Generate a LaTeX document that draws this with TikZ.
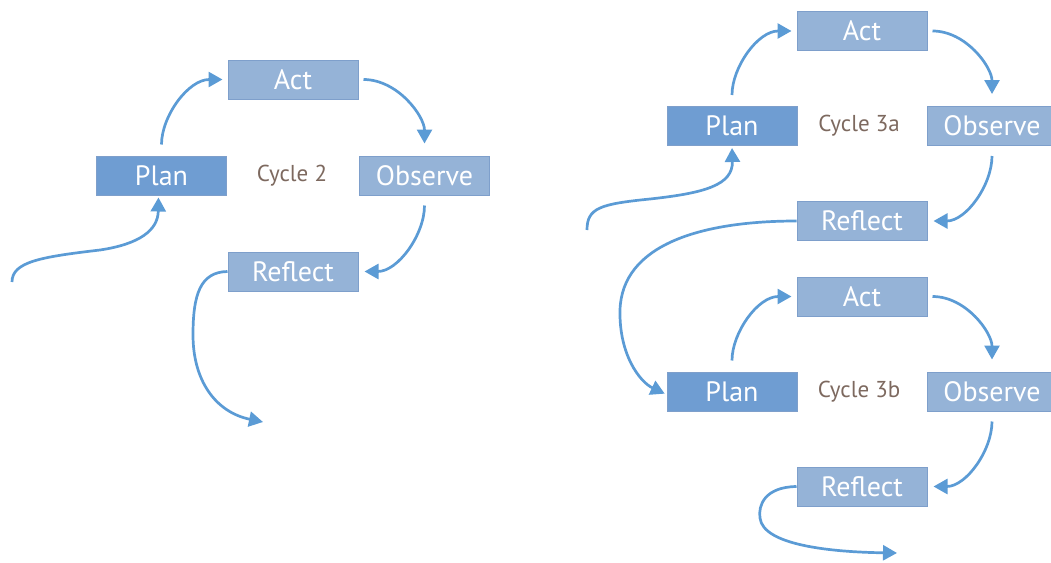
\documentclass[tikz,border=0pt]{standalone}
\usepackage{fontspec}
\setmainfont{PT Sans}
\usetikzlibrary{arrows.meta,calc}
\definecolor{boxlight}{HTML}{95B3D7}
\definecolor{boxdark}{HTML}{6F9DD2}
\definecolor{boxline}{HTML}{7E9FCB}
\definecolor{arrowblue}{HTML}{5B9BD5}
\definecolor{labelbrown}{HTML}{7D695F}
\tikzset{
  stagebox/.style={draw=boxline, line width=1pt, fill=boxlight, minimum width=130pt, minimum height=39pt, inner sep=0pt, text=white, font=\fontsize{28}{32}\selectfont},
  planbox/.style={stagebox, fill=boxdark},
  cyclelabel/.style={text=labelbrown, font=\fontsize{23}{27}\selectfont},
  flow/.style={draw=arrowblue, line width=2.7pt, -{Triangle[length=14pt,width=15pt]}}
}
\begin{document}
\begin{tikzpicture}[x=1pt,y=-1pt]
\useasboundingbox (0,0) rectangle (1051,562);
\clip (0,0) rectangle (1051,562);
% Cycle 2
\node[stagebox] (a2) at (293,79.5) {Act};
\node[planbox]  (p2) at (161.5,175.5) {Plan};
\node[stagebox] (o2) at (424.5,175.5) {Observe};
\node[stagebox] (r2) at (293,271.5) {Reflect};
\node[cyclelabel] (c2) at (292,176) {Cycle 2};
\coordinate (in2) at (12,282);
\coordinate (out2) at (263,422);
% Cycle 3a
\node[stagebox] (a3) at (862,31) {Act};
\node[planbox]  (p3) at (732,126) {Plan};
\node[stagebox] (o3) at (992,126) {Observe};
\node[stagebox] (r3) at (862,221) {Reflect};
\node[cyclelabel] (c3) at (859,126) {Cycle 3a};
\coordinate (in3) at (587,230);
% Cycle 3b
\node[stagebox] (a4) at (862,296.5) {Act};
\node[planbox]  (p4) at (732,391.5) {Plan};
\node[stagebox] (o4) at (992,391.5) {Observe};
\node[stagebox] (r4) at (862,486.5) {Reflect};
\node[cyclelabel] (c4) at (859,392) {Cycle 3b};
\coordinate (out4) at (897,553);
% arrows cycle 2
\draw[flow, shorten <=11pt, shorten >=5pt] (p2.north) to[out=90,in=180] (a2.west);
\draw[flow, shorten <=5pt, shorten >=12pt] (a2.east) to[out=0,in=90] (o2.north);
\draw[flow, shorten <=10pt, shorten >=6pt] (o2.south) to[out=-90,in=0] (r2.east);
\draw[flow, shorten >=2pt] (in2) .. controls (12,262) and (40,257) .. (100,250) .. controls (140,244) and (158,230) .. ([xshift=-3pt]p2.south);
\draw[flow] (r2.west) .. controls (200,272) and (193,295) .. (193,335) .. controls (193,380) and (215,412) .. (out2);
% arrows cycle 3a
\draw[flow, shorten <=11pt, shorten >=5pt] (p3.north) to[out=90,in=180] (a3.west);
\draw[flow, shorten <=5pt, shorten >=12pt] (a3.east) to[out=0,in=90] (o3.north);
\draw[flow, shorten <=10pt, shorten >=6pt] (o3.south) to[out=-90,in=0] (r3.east);
\draw[flow, shorten >=2pt] (in3) .. controls (587,208) and (600,204) .. (650,199) .. controls (705,193) and (733,185) .. (p3.south);
\draw[flow, shorten >=2pt] (r3.west) .. controls (700,221) and (622,245) .. (620,310) .. controls (619,355) and (640,382) .. ([yshift=-3pt]p4.west);
% arrows cycle 3b
\draw[flow, shorten <=11pt, shorten >=5pt] (p4.north) to[out=90,in=180] (a4.west);
\draw[flow, shorten <=5pt, shorten >=12pt] (a4.east) to[out=0,in=90] (o4.north);
\draw[flow, shorten <=10pt, shorten >=6pt] (o4.south) to[out=-90,in=0] (r4.east);
\draw[flow] (r4.west) .. controls (765,487) and (758,505) .. (760,518) .. controls (763,545) and (830,552) .. (out4);
\end{tikzpicture}
\end{document}
